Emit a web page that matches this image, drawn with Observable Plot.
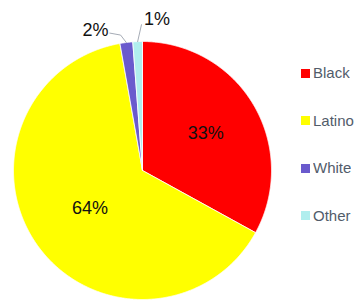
<!DOCTYPE html>
<html><head><meta charset="utf-8">
<script src="https://cdn.jsdelivr.net/npm/d3@7"></script>
<script src="https://cdn.jsdelivr.net/npm/@observablehq/plot@0.6"></script>
<style>
html,body{margin:0;padding:0;background:#fff;}
#wrap{position:relative;width:359px;height:301px;overflow:hidden;font-family:"Liberation Sans",Arial,sans-serif;}
#leg{position:absolute;left:301px;top:50px;}
#leg, #leg *{font-size:15px !important;font-family:"Liberation Sans",Arial,sans-serif !important;color:#525c6a !important;line-height:46.5px !important;}
#leg svg{margin-right:3px !important;}
</style></head><body>
<div id="wrap"><div id="leg"></div></div>
<script>
const categories = ["Black", "Latino", "White", "Other"];
const shares = [33.0, 64.2, 1.6, 1.2];
const labels = ["33%", "64%", "2%", "1%"];
const colors = ["#ff0000", "#ffff00", "#6a5acd", "#b0eeee"];

const total = d3.sum(shares);
let acc = 0;
const slices = categories.map((c, i) => {
  const a0 = acc / total * 2 * Math.PI;
  acc += shares[i];
  const a1 = acc / total * 2 * Math.PI;
  return {cat: c, a0, a1, mid: (a0 + a1) / 2, label: labels[i]};
});
// polygon outline of each slice (angle measured clockwise from top)
const pts = [];
slices.forEach(s => {
  pts.push({cat: s.cat, x: 0, y: 0});
  const n = Math.max(2, Math.ceil((s.a1 - s.a0) / 0.005));
  for (let k = 0; k <= n; k++) {
    const a = s.a0 + (s.a1 - s.a0) * k / n;
    pts.push({cat: s.cat, x: Math.sin(a), y: Math.cos(a)});
  }
  pts.push({cat: s.cat, x: 0, y: 0});
});
const polar = (a, r) => ({x: r * Math.sin(a), y: r * Math.cos(a)});
// inside labels for the big slices
const inner = [
  {...polar(slices[0].mid, 0.57), label: slices[0].label},
  {...polar(slices[1].mid, 0.50), label: slices[1].label}
];
// outside labels with leader lines for the small slices
const outer = [
  {x: -0.364, y: 1.089, label: slices[2].label},
  {x: 0.112, y: 1.17, label: slices[3].label}
];
const leaders = [
  {id: "w", x: -0.253, y: 1.065}, {id: "w", x: -0.17, y: 1.05}, {id: "w", ...polar(slices[2].mid, 1.0)},
  {id: "o", x: -0.008, y: 1.13}, {id: "o", ...polar(slices[3].mid, 1.0)}
];

const plot = Plot.plot({
  width: 359, height: 301, margin: 0,
  x: {domain: [-1, 1], range: [13, 271], axis: null},
  y: {domain: [-1, 1], range: [299, 41], axis: null},
  color: {domain: categories, range: colors},
  style: {fontFamily: "'Liberation Sans', Arial, sans-serif", background: "white", overflow: "visible"},
  marks: [
    Plot.line(pts, {x: "x", y: "y", z: "cat", fill: "cat", stroke: "white", strokeWidth: 0.8, curve: "linear"}),
    Plot.line(leaders, {x: "x", y: "y", z: "id", stroke: "#a6acb6", strokeWidth: 1}),
    Plot.text(inner, {x: "x", y: "y", text: "label", fontSize: 18, fill: "#111"}),
    Plot.text(outer, {x: "x", y: "y", text: "label", fontSize: 18, fill: "#111"})
  ]
});
document.getElementById("wrap").prepend(plot);

const leg = plot.legend("color", {swatchSize: 9, columns: 1});
document.getElementById("leg").appendChild(leg);
</script>
</body></html>
